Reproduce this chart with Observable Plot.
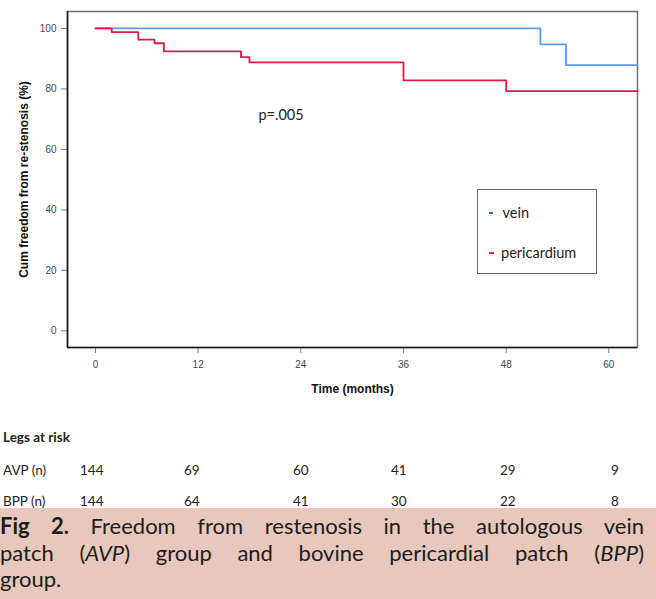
<!DOCTYPE html>
<html>
<head>
<meta charset="utf-8">
<script src="https://cdn.jsdelivr.net/npm/d3@7"></script>
<script src="https://cdn.jsdelivr.net/npm/@observablehq/plot@0.6"></script>
<style>
  html, body { margin: 0; padding: 0; background: #fff; }
  #page { position: relative; width: 656px; height: 599px; overflow: hidden; background: #fff; }
  #chart { position: absolute; left: 0; top: 0; }
  .legend { position: absolute; left: 477px; top: 189px; width: 120px; height: 85px; box-sizing: border-box;
            border: 1px solid #6a6a6a; font-family: Lato, sans-serif; font-size: 14.5px; color: #222; }
  .legend .item { position: absolute; white-space: nowrap; line-height: 18px; height: 18px; }
  .legend .sw { position: absolute; width: 4.5px; height: 2.2px; }
  .risk { position: absolute; font-family: Lato, sans-serif; font-size: 13.5px; color: #222; line-height: 16px; height: 16px; white-space: nowrap; }
  #caption { position: absolute; left: 0; top: 508px; width: 656px; height: 91px; background: #e8c8bc; overflow: hidden;
             font-family: Lato, sans-serif; font-size: 22px; color: #1c1c1c; }
  #caption .ln { position: absolute; left: 0px; width: 644px; line-height: 26.5px; height: 26.5px; white-space: normal;
                 text-align: justify; text-align-last: justify; }
  #caption .ln.last { text-align-last: left; }
</style>
</head>
<body>
<div id="page">
  <div id="chart"></div>
  <div id="legend" class="legend"></div>
  <div id="risk"></div>
  <div id="caption"></div>
</div>
<script>
// ---------- data ----------
const seriesNames = ["vein", "pericardium"];
const seriesColors = ["#5b9be3", "#de1a44"];
const legendColors = ["#1f72d6", "#ff1a1a"];

const veinMonths = [0, 52, 55, 63.35];
const veinValues = [100, 94.7, 87.9, 87.9];

const pericardiumMonths = [0, 1.9, 5, 6.9, 8, 17, 18, 36, 48, 63.35];
const pericardiumValues = [100, 98.8, 96.3, 95.1, 92.4, 90.5, 88.8, 82.8, 79.3, 79.3];

const xTicks = [0, 12, 24, 36, 48, 60];
const yTicks = [0, 20, 40, 60, 80, 100];

const xTitle = "Time (months)";
const yTitle = "Cum freedom from re-stenosis (%)";
const pLabel = "p=.005";

const riskTitle = "Legs at risk";
const riskGroups = ["AVP (n)", "BPP (n)"];
const riskAVP = [144, 69, 60, 41, 29, 9];
const riskBPP = [144, 64, 41, 30, 22, 8];

const captionBold = "Fig 2.";
const captionLines = [
  " Freedom from restenosis in the autologous vein",
  "patch (<i>AVP</i>) group and bovine pericardial patch (<i>BPP</i>)",
  "group."
];

// ---------- chart ----------
const vein = veinMonths.map((m, i) => ({month: m, value: veinValues[i]}));
const pericardium = pericardiumMonths.map((m, i) => ({month: m, value: pericardiumValues[i]}));
const xDomain = [-3.27, 63.35];
const yDomain = [-5.5, 105.6];

const chart = Plot.plot({
  width: 656,
  height: 410,
  marginLeft: 67,
  marginRight: 19,
  marginTop: 11,
  marginBottom: 63,
  x: {domain: xDomain},
  y: {domain: yDomain},
  style: {fontFamily: "'Liberation Sans Narrow','Liberation Sans',Arial,sans-serif", fontSize: "10px", background: "white", overflow: "visible"},
  marks: [
    Plot.axisY(yTicks, {tickSize: 6, tickPadding: 5, label: null, stroke: "#808080", fill: "#444", fontSize: 10}),
    Plot.axisX(xTicks, {tickSize: 6, tickPadding: 7, label: null, stroke: "#808080", fill: "#444", fontSize: 10}),
    Plot.frame({stroke: "#707070", strokeWidth: 1.5}),
    Plot.ruleX([xDomain[0]], {stroke: "#1a1a1a", strokeWidth: 1.6}),
    Plot.ruleY([yDomain[0]], {stroke: "#1a1a1a", strokeWidth: 1.6}),
    Plot.line(vein, {x: "month", y: "value", curve: "step-after", stroke: seriesColors[0], strokeWidth: 1.8}),
    Plot.line(pericardium, {x: "month", y: "value", curve: "step-after", stroke: seriesColors[1], strokeWidth: 1.8}),
    Plot.text([pLabel], {x: 19.05, y: 71.2, text: d => d, textAnchor: "start", fontFamily: "Lato, sans-serif", fontSize: 14.5, fill: "#222"}),
    Plot.text([yTitle], {frameAnchor: "left", textAnchor: "middle", dx: -43.5, rotate: -90, text: d => d, fontFamily: "'Liberation Sans',Arial,sans-serif", fontWeight: "bold", fontSize: 12, fill: "#111"}),
    Plot.text([xTitle], {frameAnchor: "bottom", dy: 45, text: d => d, fontFamily: "'Liberation Sans',Arial,sans-serif", fontWeight: "bold", fontSize: 12, fill: "#111"})
  ]
});
document.getElementById("chart").appendChild(chart);

// ---------- legend ----------
const legend = document.getElementById("legend");
const legendRows = [{sw: [10.5, 22], tx: [24.5, 14]}, {sw: [11, 62], tx: [23, 54]}];
seriesNames.forEach((name, i) => {
  const sw = document.createElement("div");
  sw.className = "sw";
  sw.style.left = legendRows[i].sw[0] + "px";
  sw.style.top = legendRows[i].sw[1] + "px";
  sw.style.background = legendColors[i];
  legend.appendChild(sw);
  const tx = document.createElement("div");
  tx.className = "item";
  tx.style.left = legendRows[i].tx[0] + "px";
  tx.style.top = legendRows[i].tx[1] + "px";
  tx.textContent = name;
  legend.appendChild(tx);
});

// ---------- numbers at risk ----------
const risk = document.getElementById("risk");
const colLeft = [80, 184, 293, 391, 500, 611];
function addRisk(text, left, top, bold) {
  const d = document.createElement("div");
  d.className = "risk";
  d.style.left = left + "px";
  d.style.top = top + "px";
  if (bold) d.style.fontWeight = "bold";
  d.textContent = text;
  risk.appendChild(d);
}
addRisk(riskTitle, 3, 437 - 8.4, true);
[riskAVP, riskBPP].forEach((row, r) => {
  const top = [470, 501][r] - 8.4;
  addRisk(riskGroups[r], 3, top, false);
  row.forEach((v, c) => addRisk(String(v), colLeft[c], top, false));
});

// ---------- caption ----------
const cap = document.getElementById("caption");
captionLines.forEach((line, i) => {
  const d = document.createElement("div");
  d.className = "ln" + (i === captionLines.length - 1 ? " last" : "");
  d.style.top = (5.2 + i * 26.5) + "px";
  d.innerHTML = (i === 0 ? "<b>" + captionBold + "</b>" : "") + line;
  cap.appendChild(d);
});
</script>
</body>
</html>
